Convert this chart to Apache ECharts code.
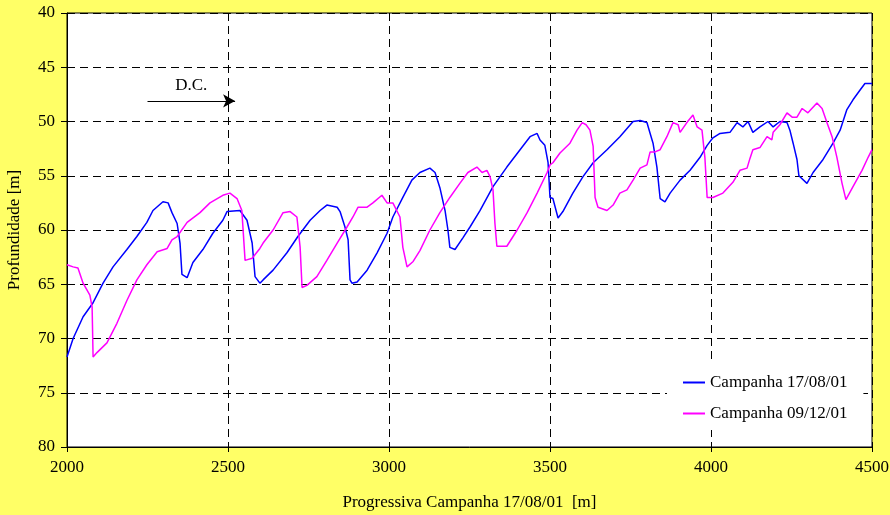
<!DOCTYPE html>
<html>
<head>
<meta charset="utf-8">
<script src="https://cdn.jsdelivr.net/npm/echarts@6/dist/echarts.min.js"></script>
<style>
  html, body { margin: 0; padding: 0; background: #FFFF66; }
  #chart { width: 890px; height: 515px; }
</style>
</head>
<body>
<div id="chart"></div>
<script>
// Survey of 17/08/01: distance [m] and depth [m]
const distA = [2000,2019,2050,2081,2112,2143,2186,2217,2248,2267,2298,2314,2326,2342,2351,2357,2373,2391,2422,2453,2484,2497,2537,2559,2575,2584,2599,2609,2640,2683,2717,2755,2786,2807,2839,2848,2863,2873,2879,2885,2901,2932,2963,2994,3012,3043,3071,3096,3127,3143,3158,3174,3183,3189,3205,3230,3252,3283,3323,3366,3407,3438,3460,3469,3484,3494,3500,3509,3525,3540,3571,3602,3634,3677,3717,3758,3780,3801,3811,3820,3832,3842,3857,3873,3904,3935,3966,3988,4006,4028,4059,4081,4099,4115,4130,4152,4177,4193,4214,4236,4245,4255,4267,4273,4298,4317,4348,4379,4401,4422,4441,4463,4478,4500];
const depthA = [71.7,70.0,68.0,66.7,64.9,63.4,61.8,60.6,59.3,58.2,57.4,57.5,58.4,59.4,61.2,64.1,64.4,63.0,61.8,60.3,59.1,58.3,58.2,59.1,61.2,64.3,64.9,64.6,63.7,62.1,60.6,59.1,58.2,57.7,57.9,58.3,59.7,60.9,64.6,64.9,64.8,63.7,62.1,60.3,58.8,57.0,55.4,54.7,54.3,54.7,56.1,58.2,60.0,61.6,61.8,60.7,59.7,58.2,56.0,54.2,52.6,51.4,51.1,51.7,52.2,53.8,57.0,57.1,58.9,58.3,56.6,55.1,53.8,52.6,51.4,50.0,49.9,50.1,51.1,52.0,54.2,57.1,57.4,56.6,55.4,54.5,53.3,52.2,51.5,51.1,51.0,50.1,50.5,50.0,51.0,50.5,50.0,50.5,50.0,50.1,50.8,52.0,53.5,55.0,55.7,54.7,53.5,52.0,50.8,48.9,48.0,47.1,46.5,46.5];

// Survey of 09/12/01: distance [m] and depth [m]
const distB = [2000,2019,2034,2050,2071,2078,2081,2093,2124,2155,2186,2217,2248,2280,2311,2326,2342,2373,2413,2444,2484,2506,2528,2543,2553,2575,2599,2609,2640,2671,2693,2714,2724,2730,2745,2776,2807,2839,2870,2888,2904,2932,2950,2978,2994,3012,3034,3043,3056,3075,3096,3127,3158,3189,3220,3245,3273,3289,3304,3314,3323,3329,3335,3366,3398,3429,3460,3491,3500,3509,3531,3562,3584,3600,3612,3624,3634,3640,3649,3677,3696,3717,3739,3758,3780,3801,3811,3826,3842,3863,3882,3898,3904,3925,3944,3957,3972,3981,3988,4006,4037,4068,4090,4112,4121,4130,4152,4174,4189,4193,4214,4236,4252,4267,4283,4301,4329,4345,4360,4376,4391,4407,4419,4441,4469,4488,4500];
const depthB = [63.2,63.4,63.5,64.9,66.0,67.1,71.7,71.3,70.4,68.6,66.5,64.6,63.2,62.0,61.7,60.9,60.6,59.3,58.4,57.5,56.8,56.6,57.1,58.2,62.8,62.6,61.7,61.2,60.0,58.4,58.3,58.8,61.6,65.3,65.1,64.3,62.8,61.2,59.7,58.8,57.9,57.9,57.5,56.8,57.5,57.5,58.8,61.6,63.4,62.9,61.9,60.0,58.4,57.0,55.7,54.7,54.2,54.7,54.5,55.1,56.3,59.4,61.5,61.5,60.0,58.4,56.6,54.7,54.0,53.8,52.9,52.0,50.8,50.1,50.3,50.8,52.3,57.0,57.9,58.2,57.7,56.6,56.3,55.4,54.3,54.0,52.8,52.8,52.6,51.4,50.1,50.3,51.0,50.1,49.4,50.5,50.8,53.3,57.0,57.0,56.6,55.6,54.5,54.3,53.4,52.6,52.4,51.4,51.7,51.0,50.3,49.2,49.6,49.6,48.8,49.2,48.3,48.8,50.1,51.4,53.3,55.7,57.2,56.0,54.5,53.3,52.6];

const seriesNames = ['Campanha 17/08/01', 'Campanha 09/12/01'];
const xTicks = { min: 2000, max: 4500, step: 500 };
const yTicks = { min: 40, max: 80, step: 5 };

// "D.C." marker arrow: start and end distance, depth
const dcArrow = { from: 2250, to: 2522, depth: 48.1, text: 'D.C.' };

const zip = (xs, ys) => xs.map((x, i) => [x, ys[i]]);

const font = 'Liberation Serif, Times New Roman, serif';
const gridDash = { color: '#000', width: 1, type: [8, 5] };

const chart = echarts.init(document.getElementById('chart'), null, { renderer: 'canvas' });
chart.setOption({
  animation: false,
  backgroundColor: '#FFFF66',
  textStyle: { fontFamily: font, color: '#000' },
  grid: {
    left: 67, right: 18, top: 13, bottom: 68,
    outerBoundsMode: 'none', containLabel: false,
    show: true, backgroundColor: '#fff', borderColor: '#000', borderWidth: 1
  },
  legend: {
    orient: 'vertical',
    left: 667, top: 362,
    padding: [12, 16, 8, 16],
    itemGap: 14,
    itemWidth: 22, itemHeight: 2,
    icon: 'rect',
    backgroundColor: '#fff',
    textStyle: { fontFamily: font, fontSize: 17, color: '#000' },
    data: seriesNames
  },
  xAxis: {
    type: 'value',
    min: xTicks.min, max: xTicks.max, interval: xTicks.step,
    name: 'Progressiva Campanha 17/08/01  [m]',
    nameLocation: 'middle', nameGap: 47,
    nameTextStyle: { fontFamily: font, fontSize: 17, color: '#000' },
    axisLine: { lineStyle: { color: '#000', width: 1 } },
    axisTick: { show: true, length: 5, lineStyle: { color: '#000' } },
    axisLabel: { fontFamily: font, fontSize: 17, color: '#000', margin: 12, formatter: v => String(v) },
    splitLine: { show: true, lineStyle: gridDash }
  },
  yAxis: {
    type: 'value',
    inverse: true,
    min: yTicks.min, max: yTicks.max, interval: yTicks.step,
    name: 'Profundidade [m]',
    nameLocation: 'middle', nameGap: 44,
    nameTextStyle: { fontFamily: font, fontSize: 17, color: '#000' },
    axisLine: { show: true, lineStyle: { color: '#000', width: 1 } },
    axisTick: { show: true, length: 6, lineStyle: { color: '#000' } },
    axisLabel: { fontFamily: font, fontSize: 17, color: '#000', margin: 12, formatter: v => String(v) },
    splitLine: { show: true, lineStyle: gridDash }
  },
  series: [
    {
      name: seriesNames[0], type: 'line', data: zip(distA, depthA),
      showSymbol: false, symbol: 'none',
      lineStyle: { color: '#0000FF', width: 1.5 }, itemStyle: { color: '#0000FF' },
      markLine: {
        silent: true, animation: false,
        symbol: ['none', 'arrow'], symbolSize: [10, 12],
        lineStyle: { color: '#000', width: 1, type: 'solid' },
        label: {
          show: true, position: 'insideMiddleTop', distance: 7,
          formatter: dcArrow.text, fontFamily: font, fontSize: 17, color: '#000'
        },
        data: [[
          { coord: [dcArrow.from, dcArrow.depth] },
          { coord: [dcArrow.to, dcArrow.depth] }
        ]]
      }
    },
    {
      name: seriesNames[1], type: 'line', data: zip(distB, depthB),
      showSymbol: false, symbol: 'none',
      lineStyle: { color: '#FF00FF', width: 1.5 }, itemStyle: { color: '#FF00FF' }
    }
  ]
});
</script>
</body>
</html>
